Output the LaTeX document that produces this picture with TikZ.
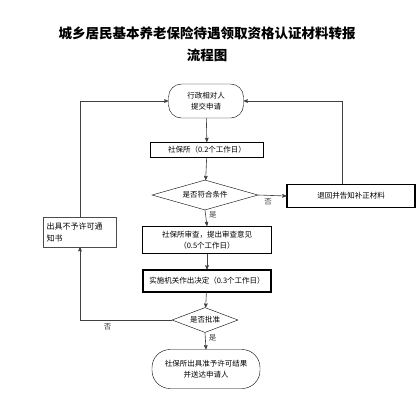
\documentclass[tikz,border=0pt]{standalone}
\usepackage{fontspec}
\setmainfont{Noto Sans CJK SC}
\usetikzlibrary{arrows}
\usetikzlibrary{positioning}
\usetikzlibrary{shapes.geometric}

\begin{document}
\begin{tikzpicture}[x=1pt,y=-1pt,->,>=stealth']
			\tikzset{step box/.style = {shape=rectangle, draw, line width=1.1pt, inner sep=0pt, align=center, font=\fontsize{7.5}{10.5}\selectfont}}
			\tikzset{thin box/.style = {shape=rectangle, draw=black!70, thin, inner sep=2pt, align=left, font=\fontsize{8}{12}\selectfont}}
			\tikzset{terminal/.style = {shape=rectangle, draw, thin, inner sep=0pt, align=center, font=\fontsize{7.5}{11}\selectfont}}
			\tikzset{decision/.style = {shape=diamond, draw, thin, inner sep=0pt, aspect=3.5, font=\fontsize{7.5}{9}\selectfont}}
			\tikzset{flow/.style = {draw=black!75, semithick}}
			\tikzset{tag/.style = {font=\fontsize{7.5}{9}\selectfont, text=black!75}}
			
			\useasboundingbox[fill=white] (0,0) rectangle (417,400);
			
			\node[font=\bfseries\fontsize{13.5}{17}\selectfont] (TITLE) at (207,33) {城乡居民基本养老保险待遇领取资格认证材料转报};
			\node[font=\bfseries\fontsize{13.5}{17}\selectfont] (SUBTITLE) at (207,55) {流程图};
			
			\node[terminal, rounded corners=13pt, minimum width=75pt, minimum height=34pt] (APPLY) at (206,101)
			{行政相对人\\提交申请};
			\node[step box, minimum width=113pt, minimum height=15pt] (STATION) at (207,150)
			{社保所（0.2个工作日）};
			\node[decision, minimum width=106pt, minimum height=30pt] (CHECK) at (205,195)
			{是否符合条件};
			\node[step box, minimum width=128pt, minimum height=23pt] (RETURN) at (351,196)
			{退回并告知补正材料};
			\node[step box, minimum width=129pt, minimum height=27pt] (REVIEW) at (207,240)
			{社保所审查，提出审查意见\\（0.5个工作日）};
			\node[step box, minimum width=128pt, minimum height=22pt] (DECIDE) at (207,281)
			{实施机关作出决定（0.3个工作日）};
			\node[decision, minimum width=66pt, minimum height=25pt] (APPROVE) at (205,320)
			{是否批准};
			\node[thin box, minimum width=73pt, minimum height=30pt, text width=67pt] (REFUSE) at (80,232)
			{出具不予许可通\\知书};
			\node[terminal, rounded corners=18pt, minimum width=108pt, minimum height=39pt] (GRANT) at (206,369)
			{社保所出具准予许可结果\\并送达申请人};
			
			\draw[flow] (APPLY) -- (STATION);
			\draw[flow] (STATION) -- (CHECK);
			\draw[flow] (CHECK.east) -- node[tag, below, pos=0.35] {否} (RETURN.west);
			\draw[flow] ([xshift=-9pt]RETURN.north) |- (APPLY.east);
			\draw[flow] (CHECK.south) -- node[tag, right, pos=0.3] {是} (REVIEW.north);
			\draw[flow] (REVIEW) -- (DECIDE);
			\draw[flow] (DECIDE) -- (APPROVE);
			\draw[flow] (APPROVE.south) -- node[tag, right, pos=0.3] {是} (GRANT.north);
			\draw[flow] (APPROVE.west) -| node[tag, below, pos=0.35] {否} (REFUSE.south);
			\draw[flow] (REFUSE.north) |- (APPLY.west);
			
			\end{tikzpicture}
\end{document}
